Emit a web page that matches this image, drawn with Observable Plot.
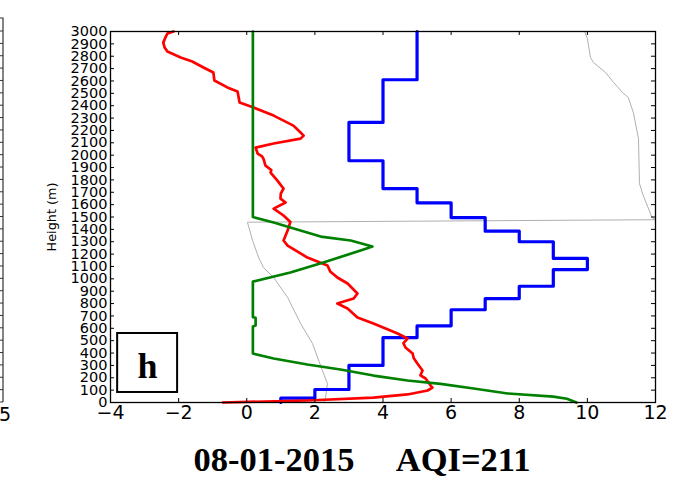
<!DOCTYPE html>
<html><head><meta charset="utf-8">
<script src="https://cdn.jsdelivr.net/npm/d3@7"></script>
<script src="https://cdn.jsdelivr.net/npm/@observablehq/plot@0.6"></script>
<style>
html,body{margin:0;padding:0;background:#fff;}
#wrap{position:relative;width:674px;height:478px;overflow:hidden;background:#fff;}
#title{position:absolute;top:442px;left:362px;transform:translateX(-50%);font-family:"Liberation Serif","Times New Roman",serif;font-weight:bold;font-size:34.5px;line-height:34px;white-space:pre;color:#000;}
</style></head><body>
<div id="wrap"><div id="chart"></div><div id="title">08-01-2015     AQI=211</div></div>
<script>
// ---- tick labels ----
const xTicks = [-4, -2, 0, 2, 4, 6, 8, 10, 12];
const yTicks = [0,100,200,300,400,500,600,700,800,900,1000,1100,1200,1300,1400,1500,1600,1700,1800,1900,2000,2100,2200,2300,2400,2500,2600,2700,2800,2900,3000];

// ---- red profile ----
const redHeight = [3000,2984,2950,2910,2870,2838,2790,2757,2709,2668,2604,2548,2515,2426,2385,2320,2239,2183,2158,2134,2094,2061,2013,1990,1972,1916,1880,1859,1794,1730,1690,1649,1617,1568,1512,1460,1390,1310,1269,1172,1108,1060,1011,962,881,841,808,800,760,687,639,558,517,480,445,396,360,315,259,220,194,137,121,97,65,40,16,0];
const redValue  = [-2.15,-2.33,-2.39,-2.45,-2.41,-2.33,-1.94,-1.6,-1.27,-0.98,-0.95,-0.57,-0.27,-0.21,0.2,0.79,1.37,1.58,1.67,1.58,0.79,0.26,0.32,0.45,0.49,0.55,0.72,0.7,0.9,1.08,1.0,0.99,1.14,0.79,1.08,1.28,1.2,1.08,1.2,1.78,2.37,2.45,2.66,2.96,3.25,3.14,2.75,2.66,2.96,3.25,3.72,4.43,4.72,4.6,4.66,4.87,4.9,5.01,5.16,5.1,5.25,5.4,5.45,5.31,4.72,3.72,1.78,-0.7];

// ---- green profile ----
const greenHeight = [3000,1500,1455,1415,1342,1310,1261,1237,1132,1051,978,690,685,622,615,396,356,307,267,218,178,150,113,73,48,30,0];
const greenValue  = [0.18,0.18,0.79,1.28,2.17,3.05,3.69,3.43,2.25,1.28,0.18,0.18,0.26,0.26,0.18,0.18,0.79,1.78,2.75,3.72,4.72,5.69,6.66,7.66,9.0,9.4,9.68];

// ---- blue profile (steps) ----
const blueHeight = [0,35,105,300,525,620,750,840,940,1075,1165,1300,1385,1495,1615,1730,1955,2265,2610,3000];
const blueValue  = [1,2,3,4,5,6,7,8,9,10,9,8,7,6,5,4,3,4,5,5];

// ---- grey profile ----
const grayHeight = [0,32,153,259,477,639,849,1011,1091,1172,1310,1458,1478,1495,1673,1770,2134,2345,2466,2507,2588,2669,2749,2790,2943,3000];
const grayValue  = [2.27,2.31,2.37,2.22,1.93,1.58,1.2,0.79,0.49,0.35,0.17,0.02,12.0,11.9,11.64,11.53,11.5,11.35,11.2,11.03,10.77,10.53,10.18,10.09,10.0,9.92];

// ---- panel label ----
const panelLabel = [{letter: "h", x1: -3.79, x2: -2.03, y1: 81, y2: 558}];

const W = 674, H = 430, mT = 31, mB = 28, mL = 110, mR = 19;
const frameW = W - mL - mR, frameH = H - mT - mB;

const idx = (arr) => arr.map((_, i) => i);
const fmtX = d => d < 0 ? "\u2212" + (-d) : String(d);

const chart = Plot.plot({
  width: W, height: H,
  marginTop: mT, marginBottom: mB, marginLeft: mL, marginRight: mR,
  style: {fontFamily: "DejaVu Sans", background: "white", color: "black"},
  x: {domain: [-4, 12]},
  y: {domain: [0, 3000]},
  marks: [
    Plot.line(idx(grayHeight), {x: i => grayValue[i], y: i => grayHeight[i], stroke: "#b0b0b0", strokeWidth: 1}),
    Plot.line(idx(blueHeight), {x: i => blueValue[i], y: i => blueHeight[i], stroke: "#0000ff", strokeWidth: 3.2, curve: "step-before"}),
    Plot.line(idx(redHeight), {x: i => redValue[i], y: i => redHeight[i], stroke: "#ff0000", strokeWidth: 2.7}),
    Plot.line(idx(greenHeight), {x: i => greenValue[i], y: i => greenHeight[i], stroke: "#008000", strokeWidth: 2.7}),
    Plot.rect(panelLabel, {x1: "x1", x2: "x2", y1: "y1", y2: "y2", fill: "white", stroke: "black", strokeWidth: 2}),
    Plot.text(panelLabel, {x: d => (d.x1 + d.x2) / 2, y: d => (d.y1 + d.y2) / 2, text: "letter", fontFamily: "Liberation Serif", fontWeight: "bold", fontSize: 36, dy: 3}),
    Plot.frame({stroke: "black", strokeWidth: 1.3}),
    Plot.tickX(xTicks, {x: d => d, insetTop: frameH - 4, stroke: "black"}),
    Plot.tickX(xTicks, {x: d => d, insetBottom: frameH - 4, stroke: "black"}),
    Plot.tickY(yTicks, {y: d => d, insetRight: frameW - 4, stroke: "black"}),
    Plot.tickY(yTicks, {y: d => d, insetLeft: frameW - 4, stroke: "black"}),
    Plot.axisX({ticks: xTicks, tickSize: 0, tickPadding: 3, fontSize: 19, tickFormat: fmtX, label: null}),
    Plot.axisY({ticks: yTicks, tickSize: 0, tickPadding: 3, fontSize: 14.5, tickFormat: d => String(d), label: null}),
    Plot.text(["Height (m)"], {text: d => d, frameAnchor: "left", dx: -59, rotate: -90, fontSize: 12.8, textAnchor: "middle", lineAnchor: "middle"})
  ]
});
document.getElementById("chart").appendChild(chart);

// fragment of the neighbouring panel at the left edge
const sy = chart.scale("y");
const svg = d3.select(chart);
const g = svg.append("g").attr("stroke", "#333").attr("fill", "none");
g.append("path").attr("d", `M3,${sy.apply(0)}V18H0`).attr("stroke-width", 1.2);
yTicks.forEach(t => g.append("path").attr("d", `M0,${sy.apply(t)}H3`));
svg.append("text").attr("x", 11).attr("y", sy.apply(0) + 19).attr("text-anchor", "end")
  .attr("font-size", 19).attr("font-family", "DejaVu Sans").attr("fill", "black").text("25");
</script>
</body></html>
